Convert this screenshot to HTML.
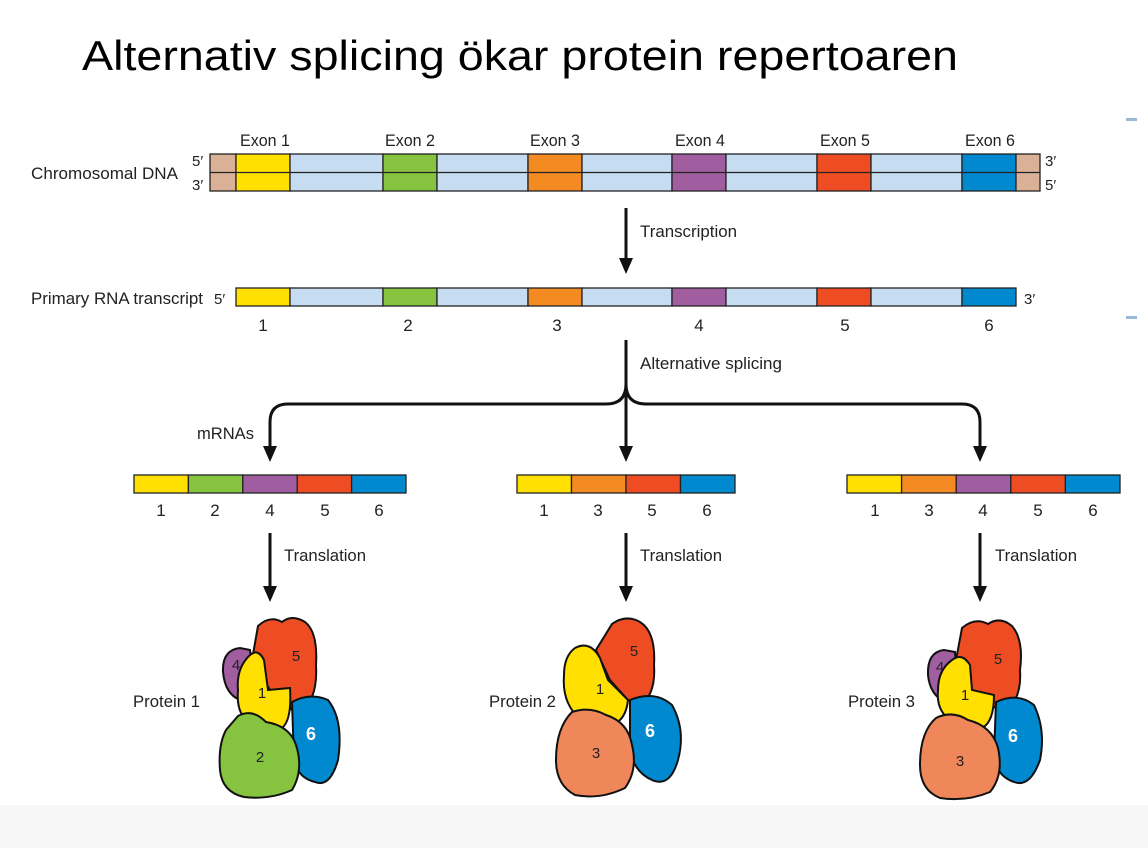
<!DOCTYPE html><html><head><meta charset="utf-8"><style>body{margin:0;background:#fff}svg{display:block}text{font-family:"Liberation Sans",sans-serif}</style></head><body>
<svg width="1148" height="848" viewBox="0 0 1148 848" xmlns="http://www.w3.org/2000/svg">
<rect x="0" y="0" width="1148" height="848" fill="#fff"/>
<rect x="0" y="805" width="1148" height="43" fill="#f7f7f7"/>
<rect x="1126" y="118" width="11" height="3" fill="#9ab8d8"/><rect x="1126" y="316" width="11" height="3" fill="#9ab8d8"/>
<text x="82" y="70" font-size="42" textLength="876" lengthAdjust="spacingAndGlyphs" fill="#000">Alternativ splicing ökar protein repertoaren</text>
<g font-size="17" fill="#222" transform="scale(1,1)">
<text x="31" y="179" textLength="147" lengthAdjust="spacingAndGlyphs">Chromosomal DNA</text>
<text x="192" y="166" font-size="15">5′</text><text x="192" y="190" font-size="15">3′</text>
<text x="1045" y="166" font-size="15">3′</text><text x="1045" y="190" font-size="15">5′</text>
<text x="240" y="146" textLength="50" lengthAdjust="spacingAndGlyphs">Exon 1</text>
<text x="385" y="146" textLength="50" lengthAdjust="spacingAndGlyphs">Exon 2</text>
<text x="530" y="146" textLength="50" lengthAdjust="spacingAndGlyphs">Exon 3</text>
<text x="675" y="146" textLength="50" lengthAdjust="spacingAndGlyphs">Exon 4</text>
<text x="820" y="146" textLength="50" lengthAdjust="spacingAndGlyphs">Exon 5</text>
<text x="965" y="146" textLength="50" lengthAdjust="spacingAndGlyphs">Exon 6</text>
<text x="31" y="304" textLength="172" lengthAdjust="spacingAndGlyphs">Primary RNA transcript</text>
<text x="214" y="304" font-size="15">5′</text><text x="1024" y="304" font-size="15">3′</text>
<g text-anchor="middle"><text x="263" y="331">1</text><text x="408" y="331">2</text><text x="557" y="331">3</text><text x="699" y="331">4</text><text x="845" y="331">5</text><text x="989" y="331">6</text></g>
<text x="640" y="237" textLength="97" lengthAdjust="spacingAndGlyphs">Transcription</text>
<text x="640" y="369" textLength="142" lengthAdjust="spacingAndGlyphs">Alternative splicing</text>
<text x="197" y="439" textLength="57" lengthAdjust="spacingAndGlyphs">mRNAs</text>
<g text-anchor="middle"><text x="161" y="516">1</text><text x="215" y="516">2</text><text x="270" y="516">4</text><text x="325" y="516">5</text><text x="379" y="516">6</text>
<text x="544" y="516">1</text><text x="598" y="516">3</text><text x="652" y="516">5</text><text x="707" y="516">6</text>
<text x="875" y="516">1</text><text x="929" y="516">3</text><text x="983" y="516">4</text><text x="1038" y="516">5</text><text x="1093" y="516">6</text></g>
<text x="284" y="561" textLength="82" lengthAdjust="spacingAndGlyphs">Translation</text>
<text x="640" y="561" textLength="82" lengthAdjust="spacingAndGlyphs">Translation</text>
<text x="995" y="561" textLength="82" lengthAdjust="spacingAndGlyphs">Translation</text>
<text x="133" y="707" textLength="67" lengthAdjust="spacingAndGlyphs">Protein 1</text>
<text x="489" y="707" textLength="67" lengthAdjust="spacingAndGlyphs">Protein 2</text>
<text x="848" y="707" textLength="67" lengthAdjust="spacingAndGlyphs">Protein 3</text>
</g>
<!-- DNA -->
<g stroke="#222" stroke-width="1.3">
<rect x="210" y="154" width="26" height="37" fill="#d8b196"/>
<rect x="236" y="154" width="54" height="37" fill="#ffe000"/>
<rect x="290" y="154" width="93" height="37" fill="#c6dcf0"/>
<rect x="383" y="154" width="54" height="37" fill="#86c440"/>
<rect x="437" y="154" width="91" height="37" fill="#c6dcf0"/>
<rect x="528" y="154" width="54" height="37" fill="#f38b22"/>
<rect x="582" y="154" width="90" height="37" fill="#c6dcf0"/>
<rect x="672" y="154" width="54" height="37" fill="#a05ea0"/>
<rect x="726" y="154" width="91" height="37" fill="#c6dcf0"/>
<rect x="817" y="154" width="54" height="37" fill="#ee4d23"/>
<rect x="871" y="154" width="91" height="37" fill="#c6dcf0"/>
<rect x="962" y="154" width="54" height="37" fill="#0089cf"/>
<rect x="1016" y="154" width="24" height="37" fill="#d8b196"/>
<line x1="210" y1="172.5" x2="1040" y2="172.5"/>
<!-- RNA -->
<rect x="236" y="288" width="54" height="18" fill="#ffe000"/>
<rect x="290" y="288" width="93" height="18" fill="#c6dcf0"/>
<rect x="383" y="288" width="54" height="18" fill="#86c440"/>
<rect x="437" y="288" width="91" height="18" fill="#c6dcf0"/>
<rect x="528" y="288" width="54" height="18" fill="#f38b22"/>
<rect x="582" y="288" width="90" height="18" fill="#c6dcf0"/>
<rect x="672" y="288" width="54" height="18" fill="#a05ea0"/>
<rect x="726" y="288" width="91" height="18" fill="#c6dcf0"/>
<rect x="817" y="288" width="54" height="18" fill="#ee4d23"/>
<rect x="871" y="288" width="91" height="18" fill="#c6dcf0"/>
<rect x="962" y="288" width="54" height="18" fill="#0089cf"/>
<!-- mRNAs -->
<rect x="134" y="475" width="54.4" height="18" fill="#ffe000"/><rect x="188.4" y="475" width="54.4" height="18" fill="#86c440"/><rect x="242.8" y="475" width="54.4" height="18" fill="#a05ea0"/><rect x="297.2" y="475" width="54.4" height="18" fill="#ee4d23"/><rect x="351.6" y="475" width="54.4" height="18" fill="#0089cf"/>
<rect x="517" y="475" width="54.5" height="18" fill="#ffe000"/><rect x="571.5" y="475" width="54.5" height="18" fill="#f38b22"/><rect x="626" y="475" width="54.5" height="18" fill="#ee4d23"/><rect x="680.5" y="475" width="54.5" height="18" fill="#0089cf"/>
<rect x="847" y="475" width="54.6" height="18" fill="#ffe000"/><rect x="901.6" y="475" width="54.6" height="18" fill="#f38b22"/><rect x="956.2" y="475" width="54.6" height="18" fill="#a05ea0"/><rect x="1010.8" y="475" width="54.6" height="18" fill="#ee4d23"/><rect x="1065.4" y="475" width="54.6" height="18" fill="#0089cf"/>
</g>
<!-- arrows -->
<g stroke="#111" stroke-width="3" fill="none">
<line x1="626" y1="208" x2="626" y2="262"/>
<line x1="626" y1="340" x2="626" y2="450"/>
<path d="M270 450 V422 Q270 404 288 404 H606 Q626 404 626 384 Q626 404 646 404 H962 Q980 404 980 422 V450"/>
<line x1="270" y1="533" x2="270" y2="590"/>
<line x1="626" y1="533" x2="626" y2="590"/>
<line x1="980" y1="533" x2="980" y2="590"/>
</g>
<g fill="#111">
<path d="M619 258 L633 258 L626 274Z"/>
<path d="M619 446 L633 446 L626 462Z"/><path d="M263 446 L277 446 L270 462Z"/><path d="M973 446 L987 446 L980 462Z"/>
<path d="M263 586 L277 586 L270 602Z"/><path d="M619 586 L633 586 L626 602Z"/><path d="M973 586 L987 586 L980 602Z"/>
</g>
<!-- proteins -->
<defs>
<g id="top">
<ellipse cx="0" cy="0" rx="0" ry="0"/>
</g>
</defs>
<g stroke="#111" stroke-width="2">
<!-- protein 1 -->
<path d="M240 648 Q222 650 223 672 Q225 694 240 700 L255 690 L250 650Z" fill="#a05ea0"/>
<path d="M258 626 Q270 615 282 622 Q292 614 305 622 Q318 632 316 665 Q318 700 300 712 Q290 712 290 705 L270 690 L252 660Z" fill="#ee4d23"/>
<path d="M250 655 Q258 648 264 660 L268 690 L290 688 Q292 720 282 728 Q262 730 250 722 Q236 715 238 690 Q236 668 250 655Z" fill="#ffe000"/>
<path d="M292 702 Q310 692 328 700 Q344 720 338 760 Q330 788 315 782 Q298 778 294 760Z" fill="#0089cf"/>
<path d="M238 716 Q252 708 266 722 Q290 726 296 745 Q304 770 292 790 Q270 800 244 797 Q222 792 220 770 Q218 745 226 730Z" fill="#86c440"/>
<!-- protein 2 -->
<path d="M612 624 Q626 614 640 622 Q656 632 654 665 Q656 695 640 705 L628 700 L610 680 L596 650Z" fill="#ee4d23"/>
<path d="M575 648 Q590 640 600 658 L608 680 L628 700 Q626 720 612 725 Q590 728 576 715 Q562 700 564 675 Q564 656 575 648Z" fill="#ffe000"/>
<path d="M630 700 Q655 690 672 705 Q686 730 678 760 Q670 788 652 780 Q634 772 630 750Z" fill="#0089cf"/>
<path d="M572 712 Q590 706 606 715 Q628 722 632 745 Q638 770 625 788 Q600 800 575 795 Q556 785 556 760 Q556 728 572 712Z" fill="#f0875a"/>
<!-- protein 3 -->
<path d="M944 650 Q927 652 928 675 Q930 695 945 702 L958 692 L955 652Z" fill="#a05ea0"/>
<path d="M962 628 Q975 617 988 624 Q1000 616 1012 626 Q1024 640 1020 670 Q1022 700 1004 712 L990 705 L970 690 L956 660Z" fill="#ee4d23"/>
<path d="M952 660 Q962 652 970 665 L972 690 L994 695 Q994 722 982 728 Q962 730 950 720 Q936 710 938 690 Q938 670 952 660Z" fill="#ffe000"/>
<path d="M996 702 Q1018 692 1034 705 Q1046 730 1040 760 Q1030 788 1014 782 Q996 776 994 755Z" fill="#0089cf"/>
<path d="M936 718 Q952 710 968 720 Q992 726 998 748 Q1004 775 990 792 Q966 802 940 798 Q920 790 920 765 Q920 732 936 718Z" fill="#f0875a"/>
</g>
<g font-size="15" text-anchor="middle" fill="#222">
<text x="236" y="670">4</text><text x="296" y="661">5</text><text x="262" y="698">1</text><text x="260" y="762">2</text>
<text x="634" y="656">5</text><text x="600" y="694">1</text><text x="596" y="758">3</text>
<text x="940" y="672">4</text><text x="998" y="664">5</text><text x="965" y="700">1</text><text x="960" y="766">3</text>
</g>
<g font-size="18" font-weight="bold" fill="#fff" text-anchor="middle"><text x="311" y="740">6</text><text x="650" y="737">6</text><text x="1013" y="742">6</text></g>
</svg></body></html>
